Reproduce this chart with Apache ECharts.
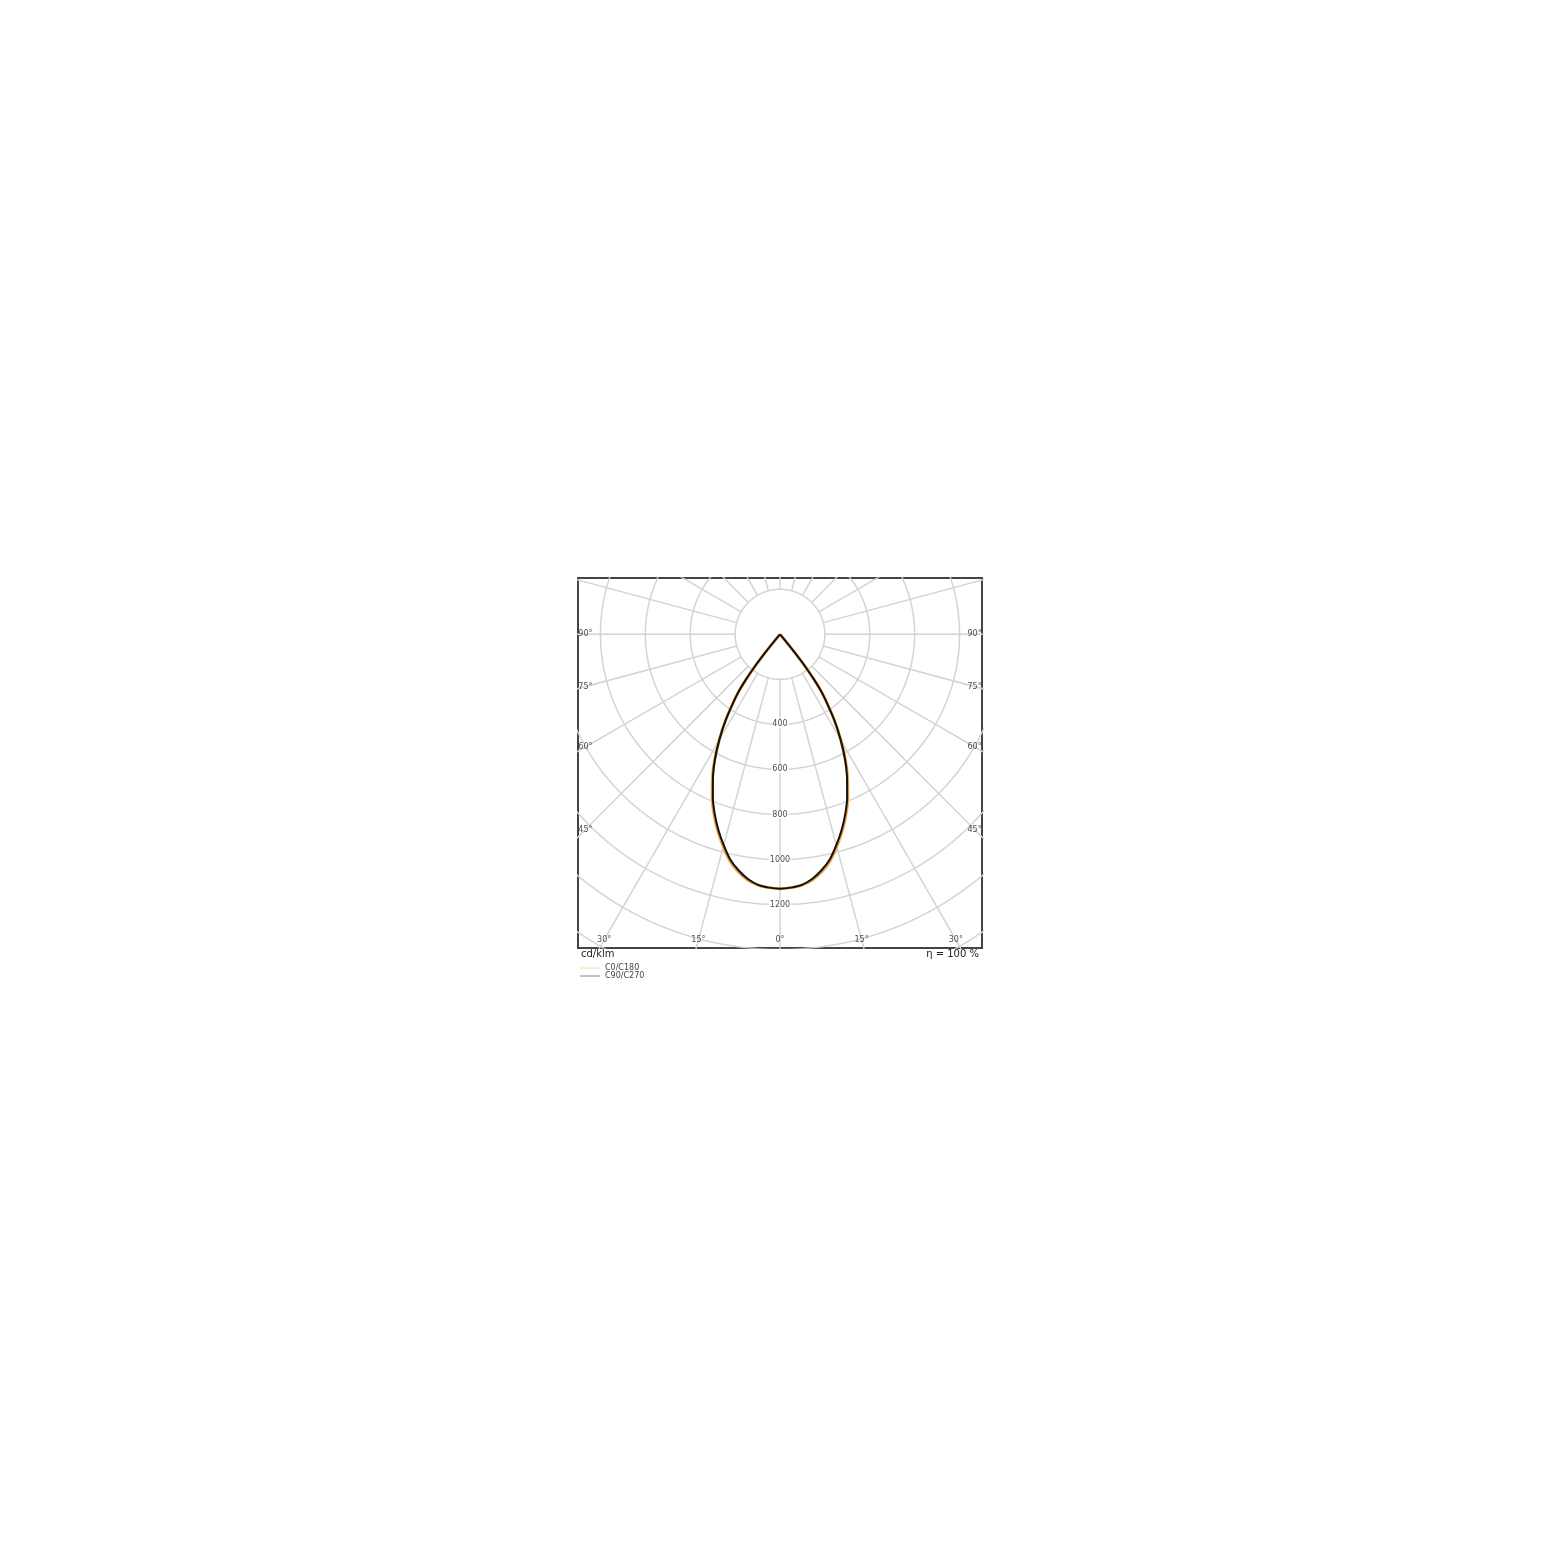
<!DOCTYPE html>
<html><head><meta charset="utf-8">
<script src="https://cdn.jsdelivr.net/npm/echarts@6/dist/echarts.min.js"></script>
<style>html,body{margin:0;padding:0;background:#fff}#c{width:1560px;height:1561px}</style>
</head><body><div id="c"></div>
<script>
// Luminous intensity (cd/klm) vs gamma angle (deg, 0 = straight down)
const gammaDeg = [0, 2.5, 5, 7.5, 10, 12.5, 15, 17.5, 20, 22.5, 25, 27.5, 30, 32.5, 35, 36, 37, 38, 39, 40, 41, 45, 60, 75, 90];
const c0c180   = [1130, 1126, 1118, 1100, 1071, 1031, 976, 919, 857, 789, 713, 632, 542, 449, 350, 312, 256, 190, 105, 35, 0, 0, 0, 0, 0];
const c90c270  = [1130, 1126, 1117, 1096, 1064, 1024, 969, 912, 850, 782, 707, 628, 540, 448, 350, 312, 256, 190, 105, 35, 0, 0, 0, 0, 0];
const ringValues = [200, 400, 600, 800, 1000, 1200, 1400, 1600];
const ringLabelValues = [400, 600, 800, 1000, 1200];
const spokeStep = 15;
const sideLabelAngles = [90, 75, 60, 45];
const bottomLabelAngles = [-30, -15, 0, 15, 30];
const unitText = 'cd/klm';
const etaText = 'η = 100 %';
const seriesNames = ['C0/C180', 'C90/C270'];

const X_MIN = -900, X_MAX = 900, Y_MIN = -1393, Y_MAX = 250;
const rad = d => d * Math.PI / 180;
const toXY = (g, r) => [r * Math.sin(rad(g)), -r * Math.cos(rad(g))];

function curve(vals) {
  const pts = [];
  const push = p => {
    const last = pts[pts.length - 1];
    if (last && Math.abs(last[0] - p[0]) < 1e-9 && Math.abs(last[1] - p[1]) < 1e-9) return;
    pts.push(p);
  };
  for (let i = gammaDeg.length - 1; i >= 1; i--) push(toXY(-gammaDeg[i], vals[i]));
  for (let i = 0; i < gammaDeg.length; i++) push(toXY(gammaDeg[i], vals[i]));
  return pts;
}

const gridColor = '#d4d4d4';
const series = [];
ringValues.forEach(r => {
  const pts = [];
  for (let a = 0; a <= 360; a += 2) pts.push(toXY(a, r));
  series.push({type: 'line', data: pts, showSymbol: false, silent: true, z: 1,
    lineStyle: {color: gridColor, width: 1.5}, animation: false});
});
for (let a = 0; a < 360; a += spokeStep) {
  series.push({type: 'line', data: [toXY(a, ringValues[0]), toXY(a, 1800)], showSymbol: false, silent: true, z: 1,
    lineStyle: {color: gridColor, width: 1.5}, animation: false});
}
series.push({name: seriesNames[0], type: 'line', data: curve(c0c180), showSymbol: false, z: 3, smooth: 0.3,
  lineStyle: {color: '#f0a445', width: 3}, itemStyle: {color: '#f0a445'}, animation: false});
series.push({name: seriesNames[1], type: 'line', data: curve(c90c270), showSymbol: false, z: 4, smooth: 0.3,
  lineStyle: {color: '#111', width: 2}, itemStyle: {color: '#111'}, animation: false});

// ring value labels
series.push({type: 'scatter', symbolSize: 0, silent: true, z: 5, animation: false,
  data: ringLabelValues.map(v => ({value: [0, -v], name: String(v)})),
  label: {show: true, position: 'inside', formatter: '{b}', fontSize: 8, color: '#222',
    fontFamily: 'DejaVu Sans', backgroundColor: '#fff', padding: [0, 1]}});
// angle labels
const sideIn = 33, botIn = 36;
const angleLabelData = [];
sideLabelAngles.forEach(a => {
  const x = X_MAX - sideIn;
  const y = -x / Math.tan(rad(a));
  angleLabelData.push({value: [-x, y], name: a + '°'});
  angleLabelData.push({value: [x, y], name: a + '°'});
});
bottomLabelAngles.forEach(a => {
  const y = Y_MIN + botIn;
  angleLabelData.push({value: [-y * Math.tan(rad(a)), y], name: Math.abs(a) + '°'});
});
series.push({type: 'scatter', symbolSize: 0, silent: true, z: 5, animation: false,
  data: angleLabelData,
  label: {show: true, position: 'inside', formatter: '{b}', fontSize: 8, color: '#222', fontFamily: 'DejaVu Sans'}});

const chart = echarts.init(document.getElementById('c'));
chart.setOption({
  backgroundColor: '#fff',
  animation: false,
  grid: {left: 578, top: 578, right: 578, bottom: 613, show: true, borderColor: '#444', borderWidth: 2, backgroundColor: 'transparent'},
  xAxis: {type: 'value', min: X_MIN, max: X_MAX, show: false},
  yAxis: {type: 'value', min: Y_MIN, max: Y_MAX, show: false},
  legend: {
    left: 580, top: 964, padding: 0, orient: 'vertical', icon: 'rect', itemWidth: 20, itemHeight: 1.2, itemGap: 0,
    textStyle: {fontSize: 8, color: '#444', fontFamily: 'DejaVu Sans', lineHeight: 7},
    data: [
      {name: seriesNames[0], itemStyle: {color: '#fbe0bb'}},
      {name: seriesNames[1], itemStyle: {color: '#999'}}
    ]
  },
  graphic: [
    {type: 'text', left: 581, top: 949, style: {text: unitText, fontSize: 10, fill: '#222', fontFamily: 'DejaVu Sans'}},
    {type: 'text', right: 1560 - 979, top: 949, style: {text: etaText, fontSize: 10, fill: '#222', fontFamily: 'DejaVu Sans'}}
  ],
  series: series
});
</script></body></html>
